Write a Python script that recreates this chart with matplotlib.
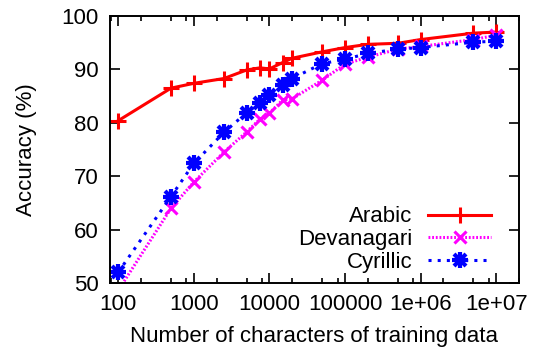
import matplotlib
matplotlib.use("Agg")
import matplotlib.pyplot as plt
from matplotlib.ticker import FixedLocator, NullFormatter

plt.rcParams['font.family'] = ['Liberation Sans', 'DejaVu Sans']

# training data size (characters)
sizes = [100, 500, 1000, 2500, 5000, 7500, 10000, 15000, 20000,
         50000, 1e5, 2e5, 5e5, 1e6, 5e6, 1e7]

arabic = [80.4, 86.5, 87.4, 88.3, 89.9, 90.3, 90.1, 91.3, 92.1,
          93.3, 94.1, 94.7, 94.9, 95.6, 96.8, 97.0]
devanagari = [48.6, 64.0, 68.9, 74.5, 78.3, 80.7, 81.8, 84.3, 84.5,
              88.0, 91.0, 92.3, 93.8, 94.3, 95.6, 96.4]
cyrillic = [52.0, 66.2, 72.4, 78.2, 81.9, 83.8, 85.3, 87.1, 88.3,
            91.1, 91.9, 93.0, 93.8, 94.1, 95.1, 95.3]

major_x = [100, 1000, 10000, 100000, 1e6, 1e7]
major_xlabels = ["100", "1000", "10000", "100000", "1e+06", "1e+07"]
y_ticks = [50, 60, 70, 80, 90, 100]

fig = plt.figure(figsize=(5.33, 3.49), dpi=100)
ax = fig.add_axes([0.2064, 0.189, 0.7673, 0.765])

l1, = ax.plot(sizes, arabic, color='red', lw=2.2, marker='+', ms=11, mew=2.2)
l2, = ax.plot(sizes, devanagari, color='magenta', lw=2.2, ls=(0, (0.6, 0.6)),
              marker='x', ms=9, mew=2.2)
# gnuplot style asterisk: a plus and a cross on top of each other
l3, = ax.plot(sizes, cyrillic, color='blue', lw=2.2, ls=(0, (1.0, 2.0)),
              marker='+', ms=11, mew=3.0)
l3b, = ax.plot(sizes, cyrillic, color='blue', lw=0, marker='x', ms=9, mew=3.0)

ax.set_xscale('log')
ax.set_xlim(78, 2e7)
ax.set_ylim(50, 100)

ax.xaxis.set_major_locator(FixedLocator(major_x))
ax.set_xticklabels(major_xlabels)
minors = []
for d in [10, 100, 1000, 10000, 1e5, 1e6, 1e7]:
    for m in (2, 5, 8):
        minors.append(d * m)
ax.xaxis.set_minor_locator(FixedLocator(minors))
ax.xaxis.set_minor_formatter(NullFormatter())
ax.set_yticks(y_ticks)

ax.tick_params(which='both', direction='in', top=True, right=True,
               labelsize=16, width=1.2)
ax.tick_params(which='major', length=7, pad=8)
ax.tick_params(which='minor', length=3.5)
for s in ax.spines.values():
    s.set_linewidth(1.4)

ax.set_xlabel('Number of characters of training data', fontsize=16, labelpad=8)
ax.set_ylabel('Accuracy (%)', fontsize=16, labelpad=18)

leg = ax.legend([l1, l2, (l3, l3b)], ['Arabic', 'Devanagari', 'Cyrillic'],
                loc='lower right', frameon=False, fontsize=16,
                markerfirst=False, handlelength=2.85, labelspacing=0.08,
                borderaxespad=0.2, handletextpad=0.7,
                bbox_to_anchor=(0.965, -0.012))
for t in leg.get_texts():
    t.set_ha('right')

fig.savefig('out.png', dpi=100)
